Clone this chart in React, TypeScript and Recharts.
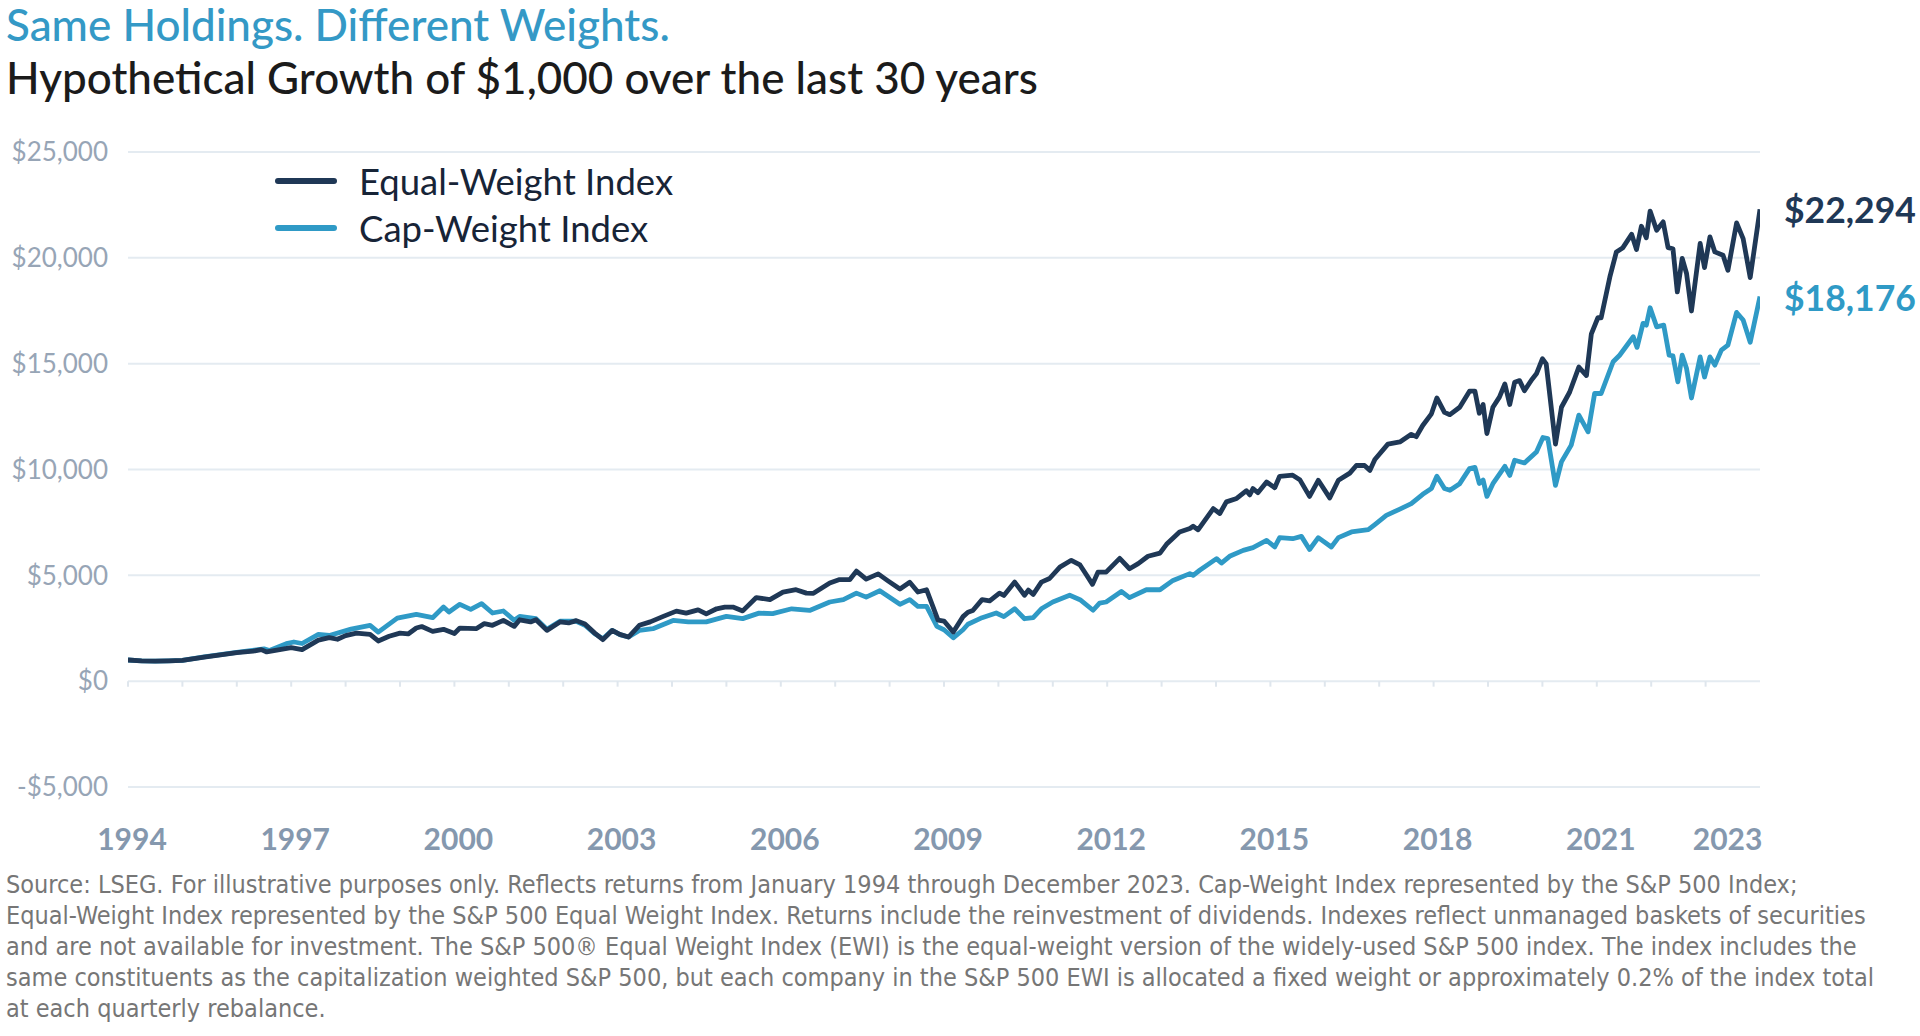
import React from "react";
import {
  LineChart,
  Line,
  XAxis,
  YAxis,
  CartesianGrid,
  ReferenceLine,
  LabelList,
} from "recharts";

// Equal-Weight Index, growth of $1,000 (time in fractional years)
const ewYears = [
  1994.0, 1994.25, 1994.5, 1994.75, 1995.0, 1995.4, 1996.0, 1996.3, 1996.45, 1996.55,
  1997.0, 1997.2, 1997.5, 1997.7, 1997.85, 1998.0, 1998.2, 1998.45, 1998.6, 1998.8,
  1999.0, 1999.15, 1999.3, 1999.4, 1999.6, 1999.8, 2000.0, 2000.1, 2000.4, 2000.55,
  2000.7, 2000.9, 2001.1, 2001.2, 2001.4, 2001.5, 2001.7, 2001.94, 2002.1, 2002.24,
  2002.4, 2002.58, 2002.73, 2002.9, 2003.04, 2003.2, 2003.4, 2003.6, 2003.84, 2004.08,
  2004.26, 2004.48, 2004.63, 2004.82, 2004.97, 2005.12, 2005.3, 2005.55, 2005.8, 2006.04,
  2006.28, 2006.47, 2006.6, 2006.9, 2007.08, 2007.27, 2007.39, 2007.57, 2007.79, 2007.97,
  2008.19, 2008.37, 2008.52, 2008.68, 2008.89, 2009.0, 2009.17, 2009.35, 2009.44, 2009.53,
  2009.7, 2009.84, 2010.02, 2010.1, 2010.3, 2010.48, 2010.55, 2010.64, 2010.79, 2010.94,
  2011.13, 2011.34, 2011.5, 2011.62, 2011.73, 2011.83, 2011.98, 2012.23, 2012.41, 2012.57,
  2012.75, 2012.97, 2013.09, 2013.33, 2013.52, 2013.58, 2013.67, 2013.95, 2014.07, 2014.19,
  2014.38, 2014.56, 2014.62, 2014.68, 2014.77, 2014.93, 2015.08, 2015.17, 2015.41, 2015.54,
  2015.72, 2015.88, 2016.09, 2016.25, 2016.46, 2016.58, 2016.73, 2016.83, 2016.92, 2017.16,
  2017.38, 2017.59, 2017.68, 2017.8, 2017.96, 2018.06, 2018.2, 2018.3, 2018.48, 2018.66,
  2018.76, 2018.84, 2018.91, 2018.98, 2019.09, 2019.21, 2019.31, 2019.4, 2019.49, 2019.58,
  2019.67, 2019.8, 2019.89, 2020.0, 2020.07, 2020.24, 2020.35, 2020.5, 2020.67, 2020.81,
  2020.9, 2021.02, 2021.08, 2021.24, 2021.36, 2021.48, 2021.64, 2021.73, 2021.82, 2021.91,
  2021.98, 2022.1, 2022.22, 2022.31, 2022.4, 2022.48, 2022.57, 2022.65, 2022.74, 2022.9,
  2022.98, 2023.08, 2023.17, 2023.32, 2023.41, 2023.57, 2023.69, 2023.82, 2024.0,
];
const ewValues = [
  1000, 960, 950, 960, 980, 1140, 1350, 1420, 1490, 1380,
  1580, 1490, 1940, 2060, 1980, 2150, 2270, 2210, 1900, 2120,
  2270, 2230, 2510, 2580, 2350, 2450, 2250, 2510, 2480, 2720,
  2640, 2870, 2590, 2900, 2800, 2900, 2400, 2800, 2750, 2860,
  2700, 2270, 1960, 2400, 2210, 2085, 2640, 2800, 3060, 3310,
  3215, 3370, 3180, 3420, 3500, 3500, 3320, 3950, 3850, 4210,
  4320, 4160, 4150, 4640, 4800, 4800, 5200, 4820, 5070, 4740,
  4350, 4670, 4210, 4320, 2880, 2840, 2320, 3050, 3260, 3340,
  3850, 3790, 4160, 4050, 4680, 4060, 4300, 4100, 4680, 4850,
  5390, 5710, 5490, 5015, 4575, 5150, 5150, 5800, 5310, 5550,
  5900, 6050, 6465, 7050, 7210, 7320, 7150, 8150, 7920, 8470,
  8630, 9000, 8800, 9100, 8900, 9410, 9140, 9680, 9730, 9520,
  8730, 9490, 8660, 9490, 9830, 10190, 10190, 9960, 10470, 11200,
  11300, 11660, 11550, 12080, 12630, 13380, 12700, 12590, 12940, 13700,
  13700, 12660, 13070, 11700, 12940, 13420, 14040, 13070, 14120, 14200,
  13720, 14230, 14520, 15230, 14990, 11200, 12940, 13650, 14840, 14440,
  16410, 17170, 17170, 19100, 20280, 20480, 21110, 20390, 21490, 20950,
  22210, 21300, 21700, 20480, 20430, 18390, 19970, 19260, 17490, 20680,
  19540, 20990, 20280, 20120, 19410, 21650, 20910, 19070, 22294,
];

// Cap-Weight Index, growth of $1,000
const cwYears = [
  1994.0, 1994.25, 1994.5, 1994.75, 1995.0, 1995.4, 1996.0, 1996.5, 1996.6, 1996.91,
  1997.05, 1997.2, 1997.5, 1997.7, 1998.1, 1998.45, 1998.6, 1998.95, 1999.3, 1999.6,
  1999.8, 1999.9, 2000.1, 2000.3, 2000.5, 2000.7, 2000.9, 2001.1, 2001.2, 2001.5,
  2001.7, 2001.94, 2002.24, 2002.4, 2002.58, 2002.73, 2002.9, 2003.04, 2003.2, 2003.4,
  2003.65, 2004.02, 2004.3, 2004.63, 2005.0, 2005.3, 2005.6, 2005.85, 2006.2, 2006.53,
  2006.9, 2007.15, 2007.39, 2007.57, 2007.82, 2008.19, 2008.37, 2008.52, 2008.68, 2008.87,
  2009.0, 2009.17, 2009.35, 2009.44, 2009.7, 2009.96, 2010.1, 2010.3, 2010.48, 2010.64,
  2010.79, 2011.0, 2011.31, 2011.5, 2011.74, 2011.86, 2011.98, 2012.26, 2012.41, 2012.72,
  2012.97, 2013.21, 2013.52, 2013.58, 2013.7, 2014.01, 2014.1, 2014.25, 2014.5, 2014.68,
  2014.93, 2015.08, 2015.17, 2015.41, 2015.57, 2015.72, 2015.88, 2016.12, 2016.25, 2016.49,
  2016.8, 2016.92, 2017.13, 2017.38, 2017.59, 2017.8, 2017.96, 2018.06, 2018.2, 2018.3,
  2018.48, 2018.66, 2018.76, 2018.84, 2018.91, 2018.98, 2019.09, 2019.31, 2019.4, 2019.49,
  2019.67, 2019.89, 2020.01, 2020.1, 2020.24, 2020.35, 2020.53, 2020.67, 2020.84, 2020.96,
  2021.08, 2021.3, 2021.42, 2021.67, 2021.74, 2021.85, 2021.91, 2021.98, 2022.1, 2022.23,
  2022.33, 2022.4, 2022.49, 2022.57, 2022.65, 2022.74, 2022.9, 2022.98, 2023.08, 2023.17,
  2023.29, 2023.41, 2023.57, 2023.69, 2023.82, 2024.0,
];
const cwValues = [
  1000, 960, 950, 960, 980, 1150, 1360, 1530, 1450, 1770,
  1850, 1780, 2210, 2160, 2460, 2640, 2320, 2980, 3160, 3000,
  3500, 3270, 3630, 3390, 3660, 3220, 3315, 2875, 3060, 2950,
  2450, 2830, 2830, 2640, 2240, 2000, 2400, 2200, 2085, 2400,
  2480, 2870, 2800, 2800, 3060, 2954, 3215, 3190, 3420, 3340,
  3740, 3850, 4160, 3970, 4270, 3630, 3850, 3530, 3530, 2590,
  2430, 2050, 2430, 2690, 3000, 3220, 3050, 3420, 2950, 3000,
  3420, 3740, 4060, 3850, 3350, 3690, 3740, 4240, 3950, 4320,
  4320, 4760, 5080, 5000, 5240, 5790, 5580, 5900, 6180, 6310,
  6650, 6340, 6780, 6730, 6840, 6220, 6780, 6340, 6780, 7050,
  7160, 7400, 7830, 8130, 8390, 8830, 9100, 9680, 9100, 9020,
  9330, 10040, 10100, 9340, 9500, 8730, 9330, 10150, 9720, 10440,
  10310, 10830, 11510, 11460, 9250, 10360, 11150, 12570, 11780, 13590,
  13590, 15090, 15400, 16270, 15770, 16900, 16820, 17640, 16740, 16820,
  15400, 15370, 14140, 15400, 14770, 13380, 15320, 14370, 15320, 14930,
  15640, 15880, 17420, 17060, 16010, 18176,
];

const yTicks = [-5000, 0, 5000, 10000, 15000, 20000, 25000];
const xTicks = [1994, 1997, 2000, 2003, 2006, 2009, 2012, 2015, 2018, 2021, 2023];
const yearMarks = Array.from({ length: 30 }, (_, i) => 1994 + i);

const NAVY = "#1f3856";
const TEAL = "#2f9ac6";

const series = [
  { name: "Equal-Weight Index", color: NAVY, years: ewYears, values: ewValues },
  { name: "Cap-Weight Index", color: TEAL, years: cwYears, values: cwValues },
];

const toData = (years: number[], values: number[]) =>
  years.map((t, i) => ({ t, v: values[i] }));

const fmtMoney = (v: number) =>
  (v < 0 ? "-$" : "$") + Math.abs(v).toLocaleString("en-US");

const FONT = "Lato, 'Noto Sans', sans-serif";

const XTick = (props: any) => {
  const { x, y, payload } = props;
  const shift = payload.value === 2023 ? 22 : 4;
  return (
    <text
      x={x + shift}
      y={y}
      dy="0.71em"
      textAnchor="middle"
      fill="#8598ae"
      fontSize={30}
      fontWeight={700}
      fontFamily={FONT}
    >
      {payload.value}
    </text>
  );
};

const endLabel = (color: string, n: number) => (props: any) => {
  const { x, y, index, value } = props;
  if (index !== n - 1) return null;
  return (
    <text
      x={x + 24}
      y={y + 5}
      dominantBaseline="middle"
      fill={color}
      fontSize={35.5}
      fontWeight={700}
      fontFamily={FONT}
    >
      {fmtMoney(value)}
    </text>
  );
};

const footnote = [
  "Source: LSEG. For illustrative purposes only. Reflects returns from January 1994 through December 2023. Cap-Weight Index represented by the S&P 500 Index;",
  "Equal-Weight Index represented by the S&P 500 Equal Weight Index. Returns include the reinvestment of dividends. Indexes reflect unmanaged baskets of securities",
  "and are not available for investment. The S&P 500® Equal Weight Index (EWI) is the equal-weight version of the widely-used S&P 500 index. The index includes the",
  "same constituents as the capitalization weighted S&P 500, but each company in the S&P 500 EWI is allocated a fixed weight or approximately 0.2% of the index total",
  "at each quarterly rebalance.",
];

export default function App() {
  return (
    <div
      style={{
        position: "absolute",
        top: 0,
        left: 0,
        width: 1920,
        height: 1036,
        background: "#fff",
        fontFamily: FONT,
      }}
    >
      <div
        style={{
          position: "absolute",
          left: 6,
          top: 2,
          fontSize: 44,
          lineHeight: "44px",
          fontWeight: 500,
          color: "#3499c6",
          whiteSpace: "nowrap",
        }}
      >
        Same Holdings. Different Weights.
      </div>
      <div
        style={{
          position: "absolute",
          left: 6,
          top: 55,
          fontSize: 44,
          lineHeight: "44px",
          fontWeight: 500,
          color: "#1b1b1b",
          whiteSpace: "nowrap",
        }}
      >
        Hypothetical Growth of $1,000 over the last 30 years
      </div>

      <LineChart
        width={1920}
        height={1036}
        margin={{ top: 152, right: 160, bottom: 189, left: 0 }}
        style={{ position: "absolute", top: 0, left: 0 }}
      >
        <CartesianGrid vertical={false} stroke="#e4ebf1" strokeWidth={2} />
        <XAxis
          type="number"
          dataKey="t"
          domain={[1994, 2024]}
          ticks={xTicks}
          tick={<XTick />}
          tickLine={false}
          axisLine={false}
          tickSize={0}
          tickMargin={42}
          height={60}
          allowDataOverflow
        />
        <YAxis
          type="number"
          domain={[-5000, 25000]}
          ticks={yTicks}
          tickFormatter={fmtMoney}
          tick={{ fill: "#97a5b6", fontSize: 26, fontFamily: FONT }}
          tickLine={false}
          axisLine={false}
          tickSize={0}
          tickMargin={20}
          width={128}
        />
        {yearMarks.map((yr) => (
          <ReferenceLine
            key={yr}
            segment={[
              { x: yr, y: 0 },
              { x: yr, y: -260 },
            ]}
            stroke="#dfe6ed"
            strokeWidth={2}
          />
        ))}
        {[...series].reverse().map((s) => (
          <Line
            key={s.name}
            data={toData(s.years, s.values)}
            dataKey="v"
            type="linear"
            stroke={s.color}
            strokeWidth={4.8}
            strokeLinejoin="round"
            dot={false}
            activeDot={false}
            isAnimationActive={false}
          >
            <LabelList dataKey="v" content={endLabel(s.color, s.years.length)} />
          </Line>
        ))}
      </LineChart>

      {/* legend */}
      <div style={{ position: "absolute", left: 275, top: 157 }}>
        {series.map((s) => (
          <div
            key={s.name}
            style={{ display: "flex", alignItems: "center", height: 47 }}
          >
            <div
              style={{
                width: 62,
                height: 6,
                borderRadius: 3,
                background: s.color,
                marginRight: 22,
              }}
            />
            <span style={{ fontSize: 36.5, color: "#172437", whiteSpace: "nowrap" }}>
              {s.name}
            </span>
          </div>
        ))}
      </div>

      <div
        style={{
          position: "absolute",
          left: 6,
          top: 869,
          fontFamily: "'Liberation Sans Narrow', 'DejaVu Sans Condensed', sans-serif",
          fontStretch: "condensed",
          fontSize: 25,
          lineHeight: "31px",
          color: "#767676",
          whiteSpace: "nowrap",
        }}
      >
        {footnote.map((l, i) => (
          <div key={i}>{l}</div>
        ))}
      </div>
    </div>
  );
}
